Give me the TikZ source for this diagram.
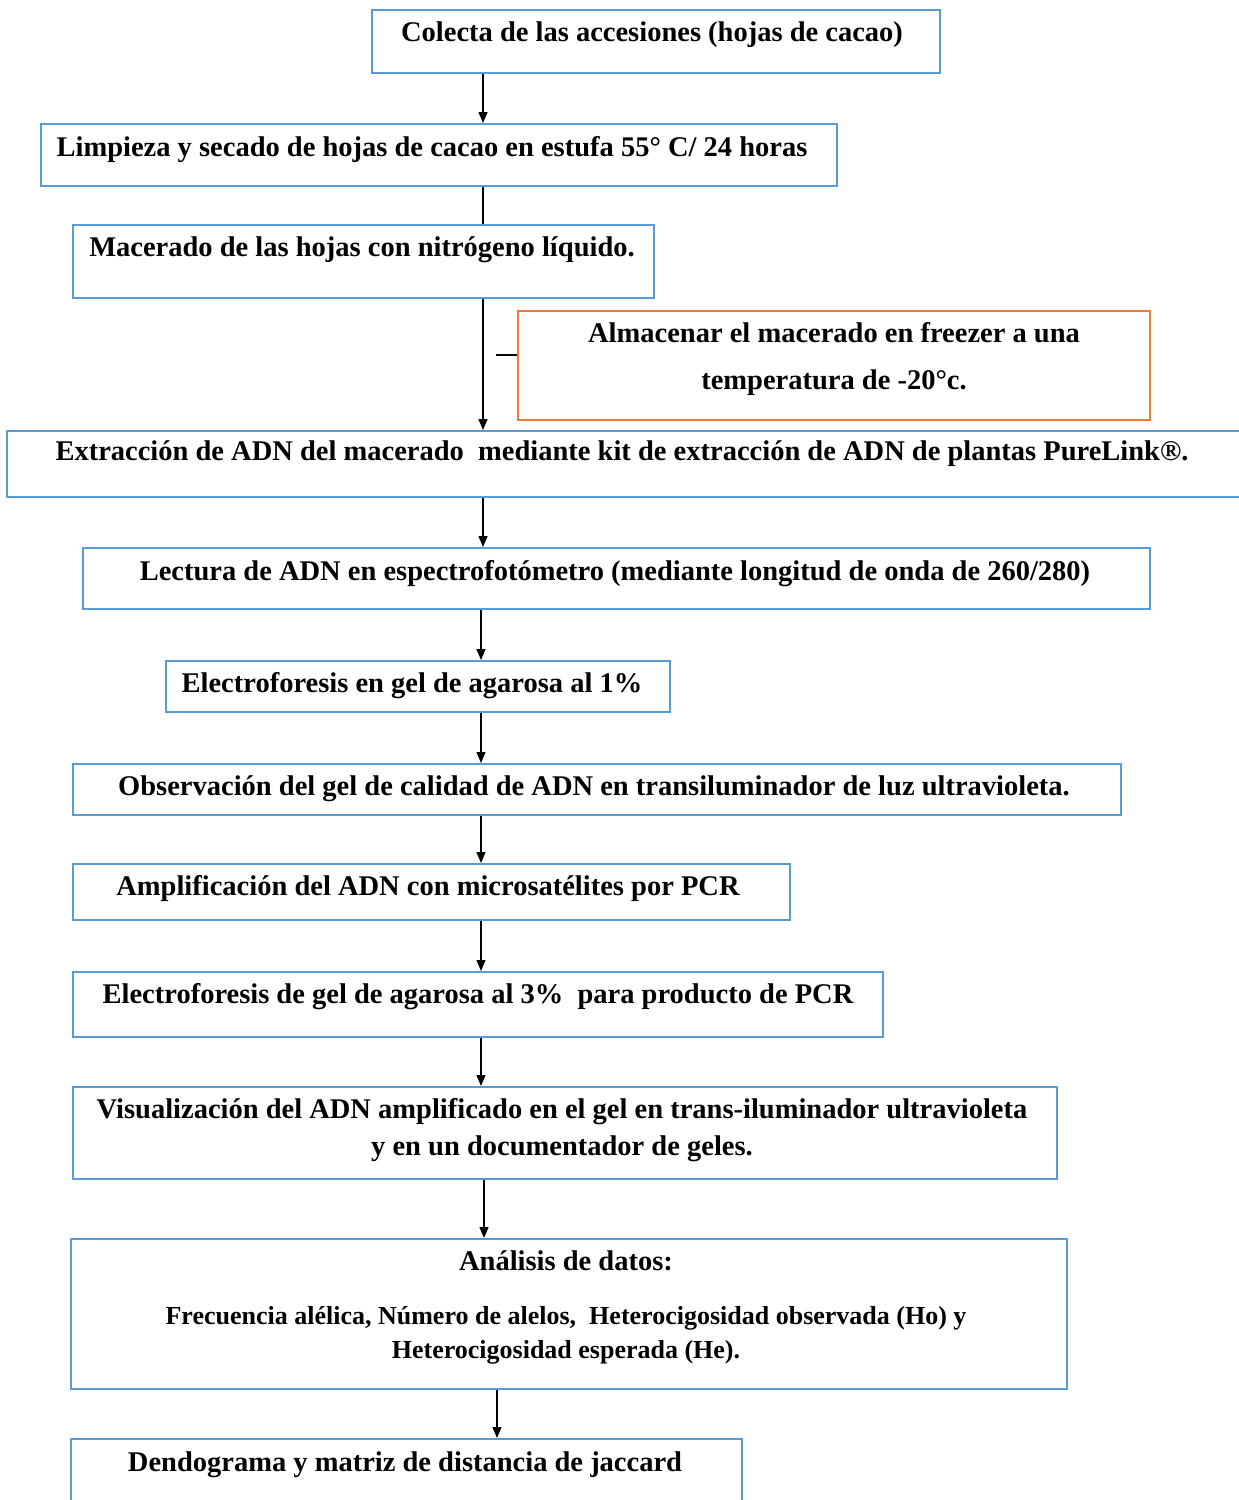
\documentclass[tikz,border=0pt]{standalone}
\usepackage{fontspec}
\setmainfont{Liberation Serif}
\usetikzlibrary{arrows.meta}
\definecolor{boxblue}{RGB}{91,155,213}
\definecolor{boxorange}{RGB}{237,125,49}
\begin{document}
\begin{tikzpicture}[x=1pt,y=-1pt,
  box/.style={draw=boxblue,line width=1.6pt,rectangle,inner sep=0pt,anchor=north west},
  obox/.style={draw=boxorange,line width=1.6pt,rectangle,inner sep=0pt,anchor=north west},
  lbl/.style={font=\fontsize{28.5}{34}\selectfont\bfseries,inner sep=0pt,anchor=base},
  slbl/.style={font=\fontsize{26}{31}\selectfont\bfseries,inner sep=0pt,anchor=base},
  arr/.style={line width=1.4pt,-{Triangle[length=11pt,width=9pt]}},
  ln/.style={line width=1.4pt}]
\useasboundingbox (0,0) rectangle (1239,1500);
% boxes
\node[box,minimum width=568pt,minimum height=63pt] (b1) at (371,9) {};
\node[box,minimum width=796pt,minimum height=62pt] (b2) at (40,123) {};
\node[box,minimum width=581pt,minimum height=73pt] (b3) at (72,224) {};
\node[obox,minimum width=632pt,minimum height=109pt] (b4) at (517,310) {};
\node[box,minimum width=1250pt,minimum height=66pt] (b5) at (6,430) {};
\node[box,minimum width=1067pt,minimum height=61pt] (b6) at (82,547) {};
\node[box,minimum width=504pt,minimum height=51pt] (b7) at (165,660) {};
\node[box,minimum width=1048pt,minimum height=51pt] (b8) at (72,763) {};
\node[box,minimum width=717pt,minimum height=56pt] (b9) at (72,863) {};
\node[box,minimum width=810pt,minimum height=65pt] (b10) at (72,971) {};
\node[box,minimum width=984pt,minimum height=92pt] (b11) at (72,1086) {};
\node[box,minimum width=996pt,minimum height=150pt] (b12) at (70,1238) {};
\node[box,minimum width=671pt,minimum height=80pt] (b13) at (70,1438) {};
% texts
\node[lbl] (t1) at (652,41) {Colecta de las accesiones (hojas de cacao)};
\node[lbl] (t2) at (432,156) {Limpieza y secado de hojas de cacao en estufa 55° C/ 24 horas};
\node[lbl] (t3) at (362,256) {Macerado de las hojas con nitrógeno líquido.};
\node[lbl] (t4a) at (834,342) {Almacenar el macerado en freezer a una};
\node[lbl] (t4b) at (834,389) {temperatura de -20°c.};
\node[lbl] (t5) at (622,460) {Extracción de ADN del macerado\ \ mediante kit de extracción de ADN de plantas PureLink®.};
\node[lbl] (t6) at (615,580) {Lectura de ADN en espectrofotómetro (mediante longitud de onda de 260/280)};
\node[lbl] (t7) at (412,692) {Electroforesis en gel de agarosa al 1\%};
\node[lbl] (t8) at (594,795) {Observación del gel de calidad de ADN en transiluminador de luz ultravioleta.};
\node[lbl] (t9) at (428,895) {Amplificación del ADN con microsatélites por PCR};
\node[lbl] (t10) at (478,1003) {Electroforesis de gel de agarosa al 3\%\ \ para producto de PCR};
\node[lbl] (t11a) at (562,1118) {Visualización del ADN amplificado en el gel en trans-iluminador ultravioleta};
\node[lbl] (t11b) at (562,1155) {y en un documentador de geles.};
\node[lbl] (t12a) at (566,1270) {Análisis de datos:};
\node[slbl] (t12b) at (566,1324) {Frecuencia alélica, Número de alelos,\ \ Heterocigosidad observada (Ho) y};
\node[slbl] (t12c) at (566,1358) {Heterocigosidad esperada (He).};
\node[lbl] (t13) at (405,1471) {Dendograma y matriz de distancia de jaccard};
% connectors
\coordinate (xa) at (483,0);
\coordinate (xb) at (481,0);
\coordinate (xc) at (484,0);
\coordinate (xd) at (497,0);
\coordinate (tk) at (496,355);
\draw[arr] (b1.south -| xa) -- (b2.north -| xa);
\draw[ln] (b2.south -| xa) -- (b3.north -| xa);
\draw[arr] (b3.south -| xa) -- (b5.north -| xa);
\draw[ln] (tk) -- (b4.west |- tk);
\draw[arr] (b5.south -| xa) -- (b6.north -| xa);
\draw[arr] (b6.south -| xb) -- (b7.north -| xb);
\draw[arr] (b7.south -| xb) -- (b8.north -| xb);
\draw[arr] (b8.south -| xb) -- (b9.north -| xb);
\draw[arr] (b9.south -| xb) -- (b10.north -| xb);
\draw[arr] (b10.south -| xb) -- (b11.north -| xb);
\draw[arr] (b11.south -| xc) -- (b12.north -| xc);
\draw[arr] (b12.south -| xd) -- (b13.north -| xd);
\end{tikzpicture}
\end{document}
